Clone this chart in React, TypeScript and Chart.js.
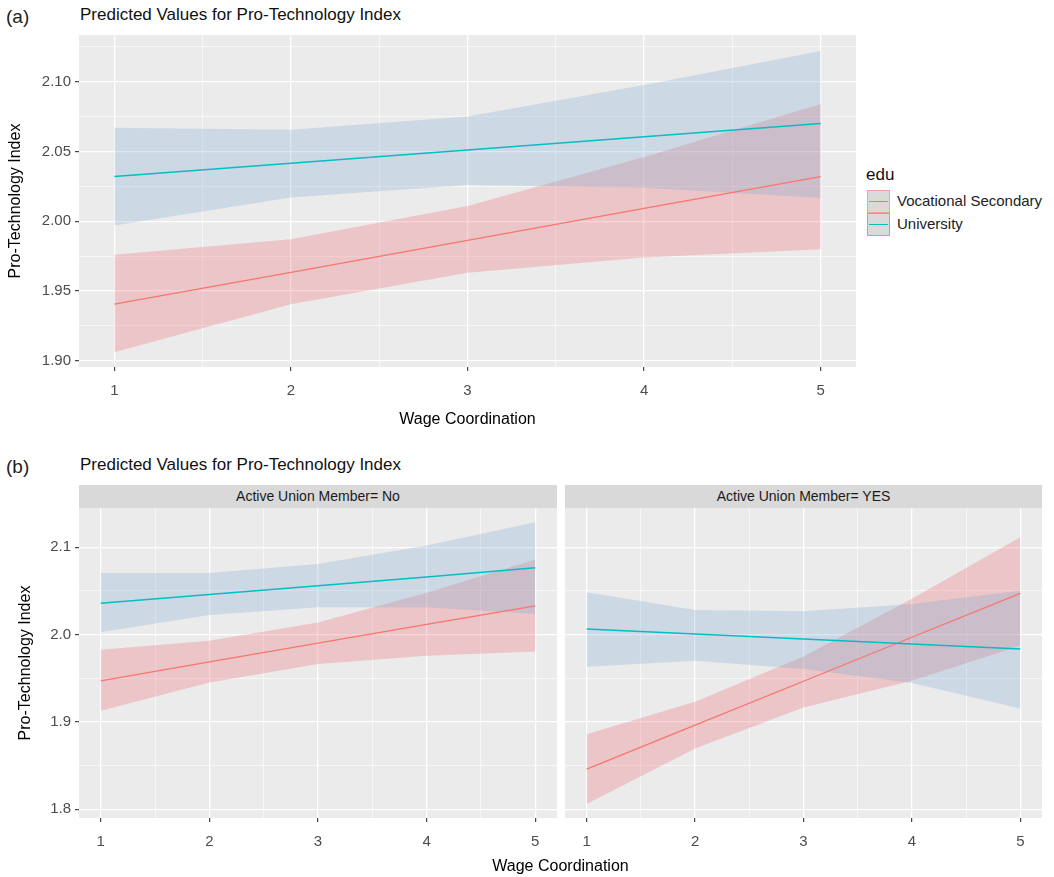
import React, { useEffect, useRef } from "react";
import { Chart, registerables } from "chart.js";

Chart.register(...registerables);

const FONT = '"Liberation Sans", Arial, Helvetica, sans-serif';

// ---------- data ----------
const wage = [1, 2, 3, 4, 5];

// Panel (a)
const aVocFit = [1.9405, 1.9634, 1.9863, 2.0092, 2.032];
const aVocLow = [1.906, 1.9405, 1.963, 1.974, 1.98];
const aVocHigh = [1.976, 1.987, 2.011, 2.046, 2.084];
const aUniFit = [2.032, 2.0415, 2.051, 2.0605, 2.07];
const aUniLow = [1.997, 2.017, 2.026, 2.024, 2.0166];
const aUniHigh = [2.067, 2.0655, 2.075, 2.0976, 2.122];

// Panel (b) Active Union Member = No
const bNoVocFit = [1.947, 1.9687, 1.9902, 2.0117, 2.033];
const bNoVocLow = [1.9128, 1.9453, 1.9663, 1.9758, 1.9808];
const bNoVocHigh = [1.9827, 1.993, 2.014, 2.048, 2.0859];
const bNoUniFit = [2.036, 2.046, 2.056, 2.066, 2.0765];
const bNoUniLow = [2.0026, 2.0225, 2.0312, 2.0312, 2.0236];
const bNoUniHigh = [2.0706, 2.0706, 2.081, 2.102, 2.1287];

// Panel (b) Active Union Member = YES
const bYesVocFit = [1.846, 1.8963, 1.9466, 1.997, 2.0473];
const bYesVocLow = [1.8059, 1.8697, 1.9166, 1.9472, 1.9873];
const bYesVocHigh = [1.886, 1.9231, 1.975, 2.041, 2.1115];
const bYesUniFit = [2.0064, 2.0007, 1.995, 1.9892, 1.9835];
const bYesUniLow = [1.9632, 1.9701, 1.9606, 1.9445, 1.9155];
const bYesUniHigh = [2.0484, 2.0282, 2.0267, 2.035, 2.0503];

// ticks
const xMajor = [1, 2, 3, 4, 5];
const xMinor = [1.5, 2.5, 3.5, 4.5];
const aYMajor = [1.9, 1.95, 2.0, 2.05, 2.1];
const aYLabels = ["1.90", "1.95", "2.00", "2.05", "2.10"];
const aYMinor = [1.925, 1.975, 2.025, 2.075, 2.125];
const bYMajor = [1.8, 1.9, 2.0, 2.1];
const bYLabels = ["1.8", "1.9", "2.0", "2.1"];
const bYMinor = [1.85, 1.95, 2.05];

const xRange = [0.8, 5.2];
const aYRange = [1.8955, 2.1335];
const bYRange = [1.79, 2.145];

const legendLabels = ["Vocational Secondary", "University"];

// ---------- styles ----------
const RED = "#F8766D";
const TEAL = "#00BFC4";
const RED_FILL = "rgba(235,95,103,0.27)";
const TEAL_FILL = "rgba(123,171,211,0.27)";
const NONE = "rgba(0,0,0,0)";
const TICK_SIZE = 15;

type Band = { fit: number[]; low: number[]; high: number[] };

const pts = (ys: number[]) => wage.map((x, i) => ({ x, y: ys[i] }));

function buildDatasets(voc: Band, uni: Band) {
  const base = { pointRadius: 0, tension: 0 };
  return [
    { ...base, data: pts(voc.high), fill: 1, backgroundColor: RED_FILL, borderColor: NONE, borderWidth: 1, order: 5 },
    { ...base, data: pts(voc.low), fill: false, borderColor: NONE, borderWidth: 1, order: 4 },
    { ...base, data: pts(uni.high), fill: 3, backgroundColor: TEAL_FILL, borderColor: NONE, borderWidth: 1, order: 3 },
    { ...base, data: pts(uni.low), fill: false, borderColor: NONE, borderWidth: 1, order: 2 },
    { ...base, data: pts(voc.fit), fill: false, borderColor: RED, borderWidth: 1.3, order: 1 },
    { ...base, data: pts(uni.fit), fill: false, borderColor: TEAL, borderWidth: 1.5, order: 0 },
  ];
}

const panelBackground = {
  id: "panelBackground",
  beforeDraw(chart: any) {
    const { ctx, chartArea } = chart;
    if (!chartArea) return;
    ctx.save();
    ctx.fillStyle = "#EBEBEB";
    ctx.fillRect(chartArea.left, chartArea.top, chartArea.right - chartArea.left, chartArea.bottom - chartArea.top);
    ctx.restore();
  },
};

const isIn = (arr: number[], v: number) => arr.some((m) => Math.abs(m - v) < 1e-9);

interface PanelSpec {
  voc: Band;
  uni: Band;
  yRange: number[];
  yMajor: number[];
  yMinor: number[];
  yLabels: string[];
  showYAxis: boolean;
  yAxisWidth: number;
  xAxisHeight: number;
  yTitle?: string;
  yTitlePad?: number;
  xTitle?: string;
  xTitlePad?: number;
}

function makeConfig(p: PanelSpec): any {
  const xAll = [...xMajor, ...xMinor].sort((a, b) => a - b);
  const yAll = [...p.yMajor, ...p.yMinor].sort((a, b) => a - b);
  const gridWidth = (major: number[]) => (ctx: any) =>
    ctx.tick && isIn(major, ctx.tick.value) ? 1.3 : 0.6;
  const tickColor = (major: number[]) => (ctx: any) =>
    ctx.tick && isIn(major, ctx.tick.value) ? "#333333" : NONE;
  return {
    type: "line",
    data: { datasets: buildDatasets(p.voc, p.uni) },
    options: {
      responsive: false,
      maintainAspectRatio: false,
      animation: false,
      devicePixelRatio: 1,
      layout: { padding: 0 },
      plugins: { legend: { display: false }, tooltip: { enabled: false }, title: { display: false } },
      scales: {
        x: {
          type: "linear",
          min: xRange[0],
          max: xRange[1],
          afterBuildTicks: (s: any) => {
            s.ticks = xAll.map((v) => ({ value: v }));
          },
          afterFit: (s: any) => {
            s.height = p.xAxisHeight;
            s.paddingLeft = 0;
            s.paddingRight = 0;
          },
          border: { display: false },
          grid: {
            color: "#FFFFFF",
            lineWidth: gridWidth(xMajor),
            tickColor: tickColor(xMajor),
            tickLength: 4,
            tickWidth: 1.1,
          },
          ticks: {
            autoSkip: false,
            maxRotation: 0,
            minRotation: 0,
            padding: 11,
            color: "#4D4D4D",
            font: { family: FONT, size: TICK_SIZE },
            callback: (v: number) => (isIn(xMajor, v) ? String(v) : ""),
          },
          title: p.xTitle
            ? {
                display: true,
                text: p.xTitle,
                color: "#000000",
                font: { family: FONT, size: 16 },
                padding: { top: 0, bottom: p.xTitlePad || 0 },
              }
            : { display: false },
        },
        y: {
          type: "linear",
          min: p.yRange[0],
          max: p.yRange[1],
          afterBuildTicks: (s: any) => {
            s.ticks = yAll.map((v) => ({ value: v }));
          },
          afterFit: (s: any) => {
            s.width = p.yAxisWidth;
            s.paddingTop = 0;
            s.paddingBottom = 0;
          },
          border: { display: false },
          grid: {
            color: "#FFFFFF",
            lineWidth: gridWidth(p.yMajor),
            tickColor: tickColor(p.yMajor),
            tickLength: 4,
            tickWidth: 1.1,
            drawTicks: p.showYAxis,
          },
          ticks: {
            display: p.showYAxis,
            autoSkip: false,
            padding: 4,
            color: "#4D4D4D",
            font: { family: FONT, size: TICK_SIZE },
            callback: (v: number) => {
              const i = p.yMajor.findIndex((m) => Math.abs(m - v) < 1e-9);
              return i >= 0 ? p.yLabels[i] : "";
            },
          },
          title: p.yTitle
            ? {
                display: true,
                text: p.yTitle,
                color: "#000000",
                font: { family: FONT, size: 16 },
                padding: { top: p.yTitlePad || 0, bottom: 0 },
              }
            : { display: false },
        },
      },
    },
    plugins: [panelBackground],
  };
}

function PanelCanvas(props: { spec: PanelSpec; left: number; top: number; width: number; height: number }) {
  const ref = useRef<HTMLCanvasElement>(null);
  useEffect(() => {
    if (!ref.current) return;
    const chart = new Chart(ref.current, makeConfig(props.spec));
    return () => chart.destroy();
  }, []);
  return (
    <canvas
      ref={ref}
      width={props.width}
      height={props.height}
      style={{
        position: "absolute",
        left: props.left,
        top: props.top,
        width: props.width,
        height: props.height,
      }}
    />
  );
}

function Text(props: { left: number; top: number; size: number; color?: string; children: any; width?: number; center?: boolean }) {
  return (
    <div
      style={{
        position: "absolute",
        left: props.left,
        top: props.top,
        width: props.width,
        textAlign: props.center ? "center" : "left",
        fontFamily: FONT,
        fontSize: props.size,
        lineHeight: `${Math.round(props.size * 1.2)}px`,
        color: props.color || "#000000",
        whiteSpace: "nowrap",
      }}
    >
      {props.children}
    </div>
  );
}

function LegendKey(props: { top: number; color: string; border: string }) {
  return (
    <div
      style={{
        position: "absolute",
        left: 867,
        top: props.top,
        width: 23,
        height: 23,
        boxSizing: "border-box",
        border: `1.5px solid ${props.border}`,
        background: "#DADADA",
      }}
    >
      <div style={{ position: "absolute", left: 1, right: 1, top: 9.5, height: 1.3, background: props.color }} />
    </div>
  );
}

export default function App() {
  const specA: PanelSpec = {
    voc: { fit: aVocFit, low: aVocLow, high: aVocHigh },
    uni: { fit: aUniFit, low: aUniLow, high: aUniHigh },
    yRange: aYRange,
    yMajor: aYMajor,
    yMinor: aYMinor,
    yLabels: aYLabels,
    showYAxis: true,
    yAxisWidth: 79,
    xAxisHeight: 73,
    yTitle: "Pro-Technology Index",
    yTitlePad: 6,
    xTitle: "Wage Coordination",
    xTitlePad: 11,
  };
  const specNo: PanelSpec = {
    voc: { fit: bNoVocFit, low: bNoVocLow, high: bNoVocHigh },
    uni: { fit: bNoUniFit, low: bNoUniLow, high: bNoUniHigh },
    yRange: bYRange,
    yMajor: bYMajor,
    yMinor: bYMinor,
    yLabels: bYLabels,
    showYAxis: true,
    yAxisWidth: 79,
    xAxisHeight: 40,
    yTitle: "Pro-Technology Index",
    yTitlePad: 16,
  };
  const specYes: PanelSpec = {
    voc: { fit: bYesVocFit, low: bYesVocLow, high: bYesVocHigh },
    uni: { fit: bYesUniFit, low: bYesUniLow, high: bYesUniHigh },
    yRange: bYRange,
    yMajor: bYMajor,
    yMinor: bYMinor,
    yLabels: bYLabels,
    showYAxis: false,
    yAxisWidth: 0,
    xAxisHeight: 40,
  };

  return (
    <div style={{ position: "absolute", left: 0, top: 0, width: 1054, height: 877, background: "#FFFFFF", overflow: "hidden" }}>
      {/* (a) */}
      <Text left={6} top={5} size={19} color="#222222">(a)</Text>
      <Text left={80} top={5} size={17} color="#111111">Predicted Values for Pro-Technology Index</Text>
      <PanelCanvas spec={specA} left={0} top={35} width={856} height={405} />

      {/* legend */}
      <Text left={866} top={165} size={17} color="#111111">edu</Text>
      <LegendKey top={190} color={RED} border="#F2A19B" />
      <LegendKey top={213} color={TEAL} border="#5CCACD" />
      <Text left={897} top={192} size={15} color="#222222">{legendLabels[0]}</Text>
      <Text left={897} top={215} size={15} color="#222222">{legendLabels[1]}</Text>

      {/* (b) */}
      <Text left={6} top={455} size={19} color="#222222">(b)</Text>
      <Text left={80} top={455} size={17} color="#111111">Predicted Values for Pro-Technology Index</Text>

      <div style={{ position: "absolute", left: 79, top: 485, width: 478, height: 23, background: "#D9D9D9" }} />
      <div style={{ position: "absolute", left: 565, top: 485, width: 477, height: 23, background: "#D9D9D9" }} />
      <Text left={79} width={478} center top={488} size={14} color="#1A1A1A">Active Union Member= No</Text>
      <Text left={565} width={477} center top={488} size={14} color="#1A1A1A">Active Union Member= YES</Text>

      <PanelCanvas spec={specNo} left={0} top={508} width={557} height={350} />
      <PanelCanvas spec={specYes} left={565} top={508} width={477} height={350} />

      <Text left={79} width={963} center top={856} size={16} color="#000000">Wage Coordination</Text>
    </div>
  );
}
